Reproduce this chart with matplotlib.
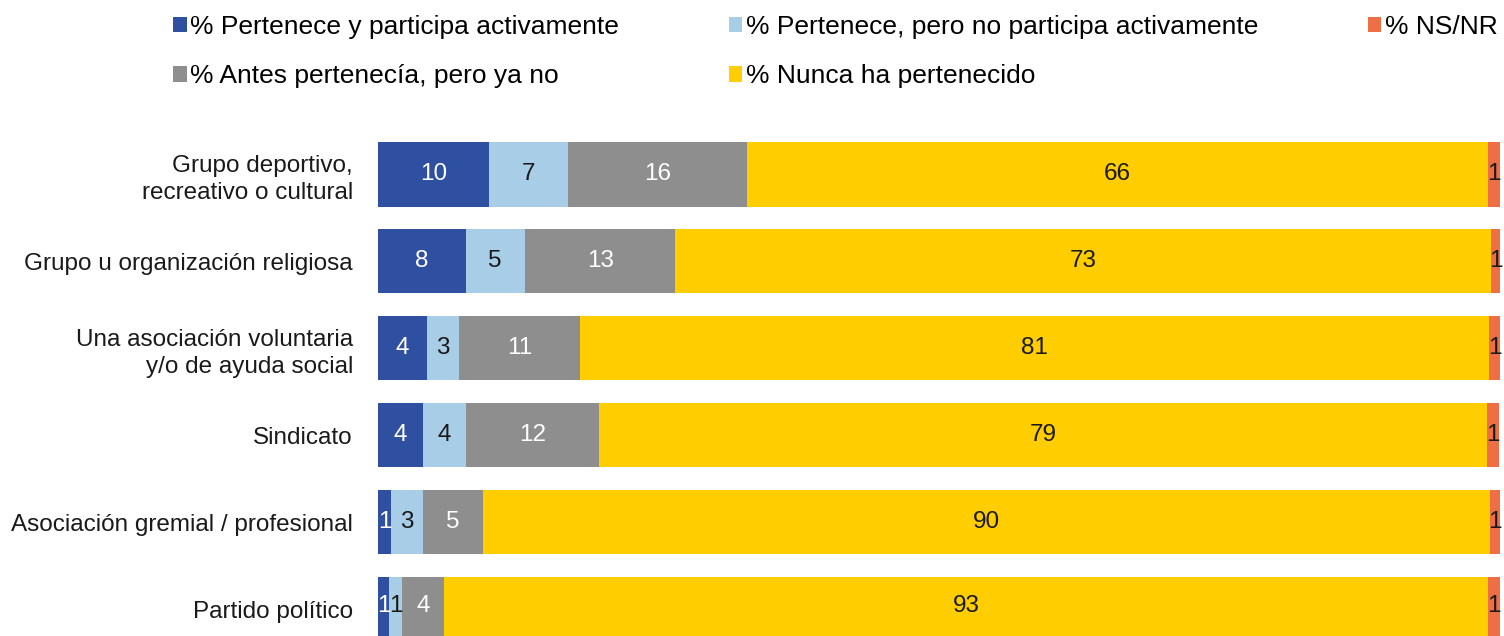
import matplotlib.pyplot as plt
from matplotlib.patches import Patch

plt.rcParams["font.family"] = ["Liberation Sans", "DejaVu Sans"]

categories = [
    "Grupo deportivo,\nrecreativo o cultural",
    "Grupo u organización religiosa",
    "Una asociación voluntaria\ny/o de ayuda social",
    "Sindicato",
    "Asociación gremial / profesional",
    "Partido político",
]

series_names = [
    "% Pertenece y participa activamente",
    "% Pertenece, pero no participa activamente",
    "% Antes pertenecía, pero ya no",
    "% Nunca ha pertenecido",
    "% NS/NR",
]

activo = [9.9, 7.8, 4.4, 4.0, 1.2, 1.0]
pasivo = [7.0, 5.3, 2.8, 3.8, 2.8, 1.1]
antes = [16.0, 13.4, 10.8, 11.9, 5.4, 3.8]
nunca = [66.0, 72.7, 81.0, 79.1, 89.7, 93.0]
nsnr = [1.1, 0.9, 1.1, 1.1, 0.9, 1.1]

colors = ["#2F4FA0", "#A8CDE6", "#8E8E8E", "#FFCD00", "#EE6F45"]
text_colors = ["white", "#1a1a1a", "white", "#1a1a1a", "#1a1a1a"]


def main():
    fig = plt.figure(figsize=(15.04, 6.36), dpi=100, facecolor="white")
    ax = fig.add_axes([378 / 1504, 0, 1122 / 1504, 506 / 636])

    data = [activo, pasivo, antes, nunca, nsnr]
    ypos = list(range(len(categories)))
    left = [0.0] * len(categories)
    handles = []
    for vals, name, col, tcol in zip(data, series_names, colors, text_colors):
        bars = ax.barh(ypos, vals, left=left, height=0.74, color=col,
                       edgecolor="none", label=name)
        ax.bar_label(bars, labels=[f"{v:.0f}" for v in vals],
                     label_type="center", color=tcol, fontsize=17.5)
        handles.append(Patch(facecolor=col, label=name))
        left = [a + b for a, b in zip(left, vals)]

    ax.set_xlim(0, 100)
    ax.set_ylim(5.31, -0.51)
    ax.set_yticks(ypos)
    ax.set_yticklabels(categories, fontsize=17.5, color="#1a1a1a",
                       linespacing=1.3)
    ax.tick_params(axis="y", length=0, pad=18)
    ax.set_xticks([])
    for s in ax.spines.values():
        s.set_visible(False)

    # legend is row-major in the picture, matplotlib fills columns first
    order = [0, 2, 1, 3, 4]
    fig.legend(
        [handles[i] for i in order],
        [series_names[i] for i in order],
        loc="upper left",
        bbox_to_anchor=(158 / 1504, 1.0),
        ncol=3,
        frameon=False,
        fontsize=19,
        handlelength=0.5,
        handleheight=0.5,
        handletextpad=0.15,
        columnspacing=4.15,
        labelspacing=0.95,
        borderpad=0.08,
    )

    fig.savefig("out.png", dpi=100, facecolor="white")
    plt.close(fig)


if __name__ == "__main__":
    main()
